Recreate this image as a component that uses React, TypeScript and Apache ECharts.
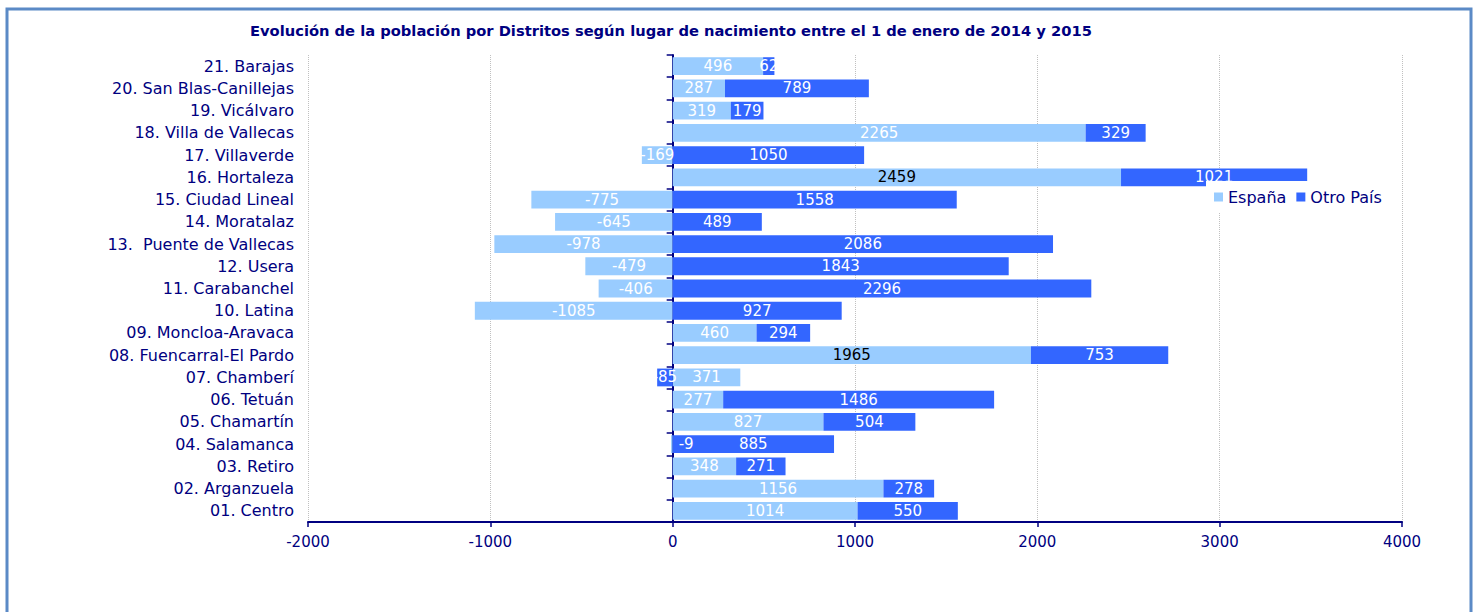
import React, { useEffect, useRef } from 'react';
import * as echarts from 'echarts';

const categories = [
  '01. Centro',
  '02. Arganzuela',
  '03. Retiro',
  '04. Salamanca',
  '05. Chamartín',
  '06. Tetuán',
  '07. Chamberí',
  '08. Fuencarral-El Pardo',
  '09. Moncloa-Aravaca',
  '10. Latina',
  '11. Carabanchel',
  '12. Usera',
  '13.  Puente de Vallecas',
  '14. Moratalaz',
  '15. Ciudad Lineal',
  '16. Hortaleza',
  '17. Villaverde',
  '18. Villa de Vallecas',
  '19. Vicálvaro',
  '20. San Blas-Canillejas',
  '21. Barajas',
];

const espana = [1014, 1156, 348, -9, 827, 277, 371, 1965, 460, -1085, -406, -479, -978, -645, -775, 2459, -169, 2265, 319, 287, 496];
const otroPais = [550, 278, 271, 885, 504, 1486, -85, 753, 294, 927, 2296, 1843, 2086, 489, 1558, 1021, 1050, 329, 179, 789, 62];

const xMin = -2000;
const xMax = 4000;
const xStep = 1000;

const seriesNames = ['España', 'Otro País'];
const titleText = 'Evolución de la población por Distritos según lugar de nacimiento entre el 1 de enero de 2014 y 2015';

export default function App() {
  const ref = useRef<HTMLDivElement>(null);

  useEffect(() => {
    if (!ref.current) return;
    const chart = echarts.init(ref.current, null, { renderer: 'svg' });
    const navy = '#000080';
    const font = '"DejaVu Sans", Verdana, sans-serif';
    const darkLabelCats = new Set(['16. Hortaleza', '08. Fuencarral-El Pardo']);

    const espanaData = espana.map((v, i) => {
      if (darkLabelCats.has(categories[i])) return { value: v, label: { color: '#000' } };
      if (Math.abs(v) < 20) return { value: v, label: { position: 'right', distance: 6 } };
      return v;
    });

    chart.setOption({
      animation: false,
      backgroundColor: '#fff',
      title: {
        text: titleText,
        left: 245,
        top: 18,
        textStyle: { color: navy, fontSize: 14.7, fontWeight: 'bold', fontFamily: font },
      },
      legend: {
        data: seriesNames,
        left: 1206,
        top: 181,
        icon: 'rect',
        itemWidth: 9,
        itemHeight: 9,
        itemGap: 10,
        padding: [8, 8, 8, 8],
        backgroundColor: '#fff',
        z: 10,
        textStyle: { color: navy, fontSize: 16, fontFamily: font },
      },
      grid: {
        left: 308,
        right: 76,
        top: 55,
        bottom: 90,
        containLabel: false,
        outerBoundsMode: 'none',
      },
      xAxis: {
        type: 'value',
        min: xMin,
        max: xMax,
        interval: xStep,
        axisLine: { show: true, onZero: false, lineStyle: { color: navy, width: 2 } },
        axisTick: { show: true, length: 5, lineStyle: { color: navy, width: 1.5 } },
        axisLabel: {
          color: navy,
          fontSize: 15,
          fontFamily: font,
          margin: 12,
          formatter: (v: number) => String(v),
        },
        splitLine: { show: true, lineStyle: { color: '#c0c0c0', type: 'dotted', width: 1 } },
      },
      yAxis: [
        {
          type: 'category',
          data: categories,
          position: 'left',
          axisLine: { show: false, onZero: false },
          axisTick: { show: false },
          axisLabel: { color: navy, fontSize: 16, fontFamily: font, margin: 14 },
          splitLine: { show: false },
        },
        {
          type: 'category',
          data: categories,
          position: 'left',
          axisLine: { show: true, onZero: true, lineStyle: { color: navy, width: 2 } },
          axisTick: { show: true, length: 6, lineStyle: { color: navy, width: 1.5 } },
          axisLabel: { show: false },
          splitLine: { show: false },
        },
      ],
      series: [
        {
          name: seriesNames[0],
          type: 'bar',
          stack: 'total',
          yAxisIndex: 0,
          barCategoryGap: '20%',
          data: espanaData,
          itemStyle: { color: '#99CCFF' },
          label: { show: true, position: 'inside', color: '#fff', fontSize: 15, fontFamily: font },
        },
        {
          name: seriesNames[1],
          type: 'bar',
          stack: 'total',
          yAxisIndex: 0,
          barCategoryGap: '20%',
          data: otroPais,
          itemStyle: { color: '#3366FF' },
          label: { show: true, position: 'inside', color: '#fff', fontSize: 15, fontFamily: font },
        },
      ],
      graphic: [
        {
          type: 'rect',
          silent: true,
          z: 100,
          shape: { x: 7, y: 9, width: 1464, height: 640 },
          style: { fill: 'none', stroke: '#5B8AC6', lineWidth: 3 },
        },
      ],
    });

    return () => chart.dispose();
  }, []);

  return (
    <div
      ref={ref}
      style={{ position: 'absolute', left: 0, top: 0, width: 1478, height: 612 }}
    />
  );
}
